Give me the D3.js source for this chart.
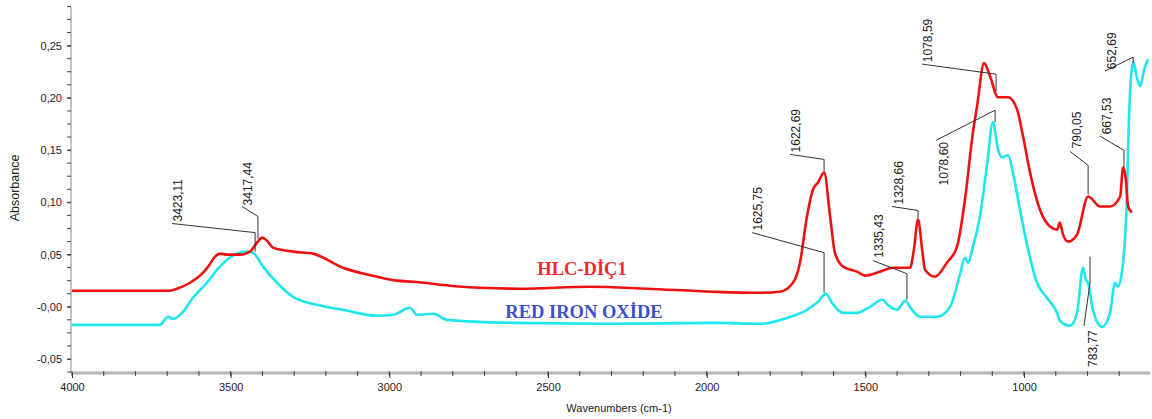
<!DOCTYPE html>
<html lang="en">
  <head>
    <meta charset="utf-8">
    <title>FTIR spectra</title>
    <script type="text/javascript" src="https://cdn.jsdelivr.net/npm/d3@7"></script>
    <style>
      body { margin: 0; background: #fff; }
      text { font-family: "Liberation Sans", Arial, sans-serif; }
      text.series { font-family: "Liberation Serif", "Times New Roman", serif; font-weight: bold; }
    </style>
  </head>
  <body>
    <script type="text/javascript">
    // HLC-DİÇ1 spectrum (wavenumber, absorbance)
    var hlcWavenumbers = [4000, 3691, 3669, 3628, 3587, 3571, 3549, 3534, 3512, 3471, 3439, 3417, 3401, 3386, 3367,
      3304, 3241, 3146, 3039, 2976, 2925, 2809, 2714, 2588, 2368, 2188, 1980, 1832, 1769, 1728, 1706, 1684,
      1665, 1649, 1630, 1611, 1596, 1570, 1526, 1501, 1454, 1413, 1359, 1347, 1334, 1321, 1312, 1280, 1243,
      1211, 1186, 1161, 1148, 1126, 1107, 1082, 1050, 1022, 1003, 981, 950, 918, 896, 887, 877, 861, 833,
      798, 760, 729, 697, 688, 679, 672, 660];
    var hlcAbsorbance = [0.0154, 0.0154, 0.0173, 0.0230, 0.0326, 0.0384, 0.0480, 0.0509, 0.0499, 0.0499, 0.0528, 0.0614, 0.0662, 0.0634, 0.0566,
      0.0528, 0.0509, 0.0374, 0.0288, 0.0250, 0.0240, 0.0202, 0.0182, 0.0173, 0.0192, 0.0173, 0.0144, 0.0134, 0.0144, 0.0230, 0.0422, 0.0864,
      0.1123, 0.1190, 0.1286, 0.0864, 0.0518, 0.0384, 0.0336, 0.0298, 0.0336, 0.0374, 0.0374, 0.0547, 0.0835, 0.0547, 0.0355, 0.0288, 0.0422,
      0.0576, 0.1027, 0.1670, 0.1920, 0.2333, 0.2208, 0.2006, 0.2006, 0.1890, 0.1632, 0.1286, 0.0931, 0.0768, 0.0739, 0.0806, 0.0691, 0.0624, 0.0691,
      0.1056, 0.0960, 0.0960, 0.1056, 0.1334, 0.1219, 0.0960, 0.0902];

    // RED IRON OXİDE spectrum
    var ironWavenumbers = [4000, 3723, 3697, 3682, 3650, 3619, 3575, 3534, 3493, 3449, 3430, 3398, 3354, 3304, 3228,
      3146, 3039, 2988, 2935, 2913, 2862, 2818, 2610, 2295, 1980, 1832, 1747, 1684, 1649, 1624, 1605, 1570,
      1526, 1485, 1447, 1429, 1400, 1375, 1353, 1328, 1274, 1233, 1202, 1186, 1176, 1161, 1139, 1117, 1098,
      1082, 1069, 1050, 1035, 1013, 987, 959, 928, 896, 887, 855, 833, 814, 805, 798, 783, 754, 729, 713, 704,
      688, 676, 669, 656, 643, 634, 621, 609];
    var ironAbsorbance = [-0.0173, -0.0173, -0.0096, -0.0115, -0.0048, 0.0086, 0.0230, 0.0384, 0.0490, 0.0528, 0.0518, 0.0384, 0.0230, 0.0096, 0.0019,
      -0.0029, -0.0086, -0.0077, -0.0010, -0.0077, -0.0067, -0.0125, -0.0154, -0.0163, -0.0154, -0.0163, -0.0106, -0.0029, 0.0048, 0.0125, 0.0038, -0.0058,
      -0.0058, 0.0000, 0.0067, 0.0019, -0.0029, 0.0058, -0.0029, -0.0096, -0.0096, 0.0000, 0.0307, 0.0470, 0.0422, 0.0576, 0.0864, 0.1344, 0.1766,
      0.1507, 0.1430, 0.1450, 0.1286, 0.0931, 0.0547, 0.0230, 0.0086, -0.0058, -0.0134, -0.0182, -0.0058, 0.0374, 0.0259, 0.0230, -0.0029, -0.0192, -0.0058, 0.0230, 0.0192,
      0.0422, 0.1027, 0.1824, 0.2342, 0.2179, 0.2112, 0.2275, 0.2370];

    // axis ticks
    var xTickValues = [4000, 3500, 3000, 2500, 2000, 1500, 1000];
    var yTickValues = [-0.05, 0, 0.05, 0.10, 0.15, 0.20, 0.25];
    var yTickLabels = ["-0,05", "-0,00", "0,05", "0,10", "0,15", "0,20", "0,25"];

    // peak labels: text anchor and leader line, in data coordinates
    var peakLabels = ["3423,11", "3417,44", "1622,69", "1625,75", "1335,43", "1328,66",
      "1078,60", "1078,59", "790,05", "667,53", "652,69", "783,77"];
    var peakTextAt = [[3653, 0.0816], [3433, 0.0970], [1706, 0.1478], [1826, 0.0730], [1444, 0.0470], [1381, 0.0979],
      [1240, 0.1162], [1290, 0.2342], [820, 0.1517], [726, 0.1651], [710, 0.2275], [770, -0.0576]];
    var peakLeaders = [
      [[3685, 0.0797], [3423, 0.0710], [3423, 0.0528]],
      [[3464, 0.0960], [3414, 0.0864], [3414, 0.0653]],
      [[1737, 0.1459], [1630, 0.1411], [1630, 0.1296]],
      [[1857, 0.0710], [1630, 0.0518], [1630, 0.0134]],
      [[1476, 0.0442], [1369, 0.0317], [1369, 0.0067]],
      [[1416, 0.0960], [1334, 0.0922], [1334, 0.0845]],
      [[1277, 0.1594], [1091, 0.1882], [1091, 0.1766]],
      [[1321, 0.2323], [1088, 0.2227], [1088, 0.2064]],
      [[855, 0.1488], [798, 0.1354], [798, 0.1075]],
      [[760, 0.1632], [685, 0.1498], [685, 0.1334]],
      [[745, 0.2256], [656, 0.2390], [656, 0.2333]],
      [[811, -0.0182], [792, 0.0230], [792, 0.0480]]
    ];

    var w = 1152;
    var h = 419;

    var svg = d3.select("body")
                .append("svg")
                .attr("width", w)
                .attr("height", h);

    var xScale = d3.scaleLinear().domain([4000, 603]).range([72, 1150]);
    var yScale = d3.scaleLinear().domain([-0.0634, 0.287]).range([373, 7]);

    // x axis: thick grey base line with small ticks
    svg.append("line")
       .attr("x1", 71).attr("x2", 1150)
       .attr("y1", 373).attr("y2", 373)
       .attr("stroke", "#b4b4b4").attr("stroke-width", 3);

    var xMinor = d3.range(4000, 600, -100);
    svg.selectAll(".xminor")
       .data(xMinor)
       .enter()
       .append("line")
       .attr("x1", function(d) { return xScale(d); })
       .attr("x2", function(d) { return xScale(d); })
       .attr("y1", 371).attr("y2", 376)
       .attr("stroke", "#444");

    var xAxis = d3.axisBottom(xScale)
                  .tickValues(xTickValues)
                  .tickSize(5)
                  .tickFormat(d3.format("d"));
    var gx = svg.append("g").attr("transform", "translate(0,373)").call(xAxis);
    gx.select(".domain").remove();
    gx.selectAll("line").attr("stroke", "#333");
    gx.selectAll("text")
      .attr("font-size", 11)
      .attr("fill", "#222")
      .attr("y", 10);

    // y axis
    var yMinor = d3.range(-0.0625, 0.288, 0.0125);
    var yAxis = d3.axisLeft(yScale)
                  .tickValues(yTickValues)
                  .tickSize(4)
                  .tickPadding(5)
                  .tickFormat(function(d, i) { return yTickLabels[i]; });
    var gy = svg.append("g").attr("transform", "translate(71,0)").call(yAxis);
    gy.select(".domain").attr("d", "M0,7V373").attr("stroke", "#888");
    gy.selectAll("line").attr("stroke", "#444");
    gy.selectAll("text")
      .attr("font-size", 11)
      .attr("fill", "#222");

    svg.selectAll(".yminor")
       .data(yMinor)
       .enter()
       .append("line")
       .attr("x1", 67).attr("x2", 71)
       .attr("y1", function(d) { return yScale(d); })
       .attr("y2", function(d) { return yScale(d); })
       .attr("stroke", "#444");

    svg.append("text")
       .attr("transform", "translate(19,188) rotate(-90)")
       .attr("text-anchor", "middle")
       .attr("font-size", 12.5)
       .attr("fill", "#222")
       .text("Absorbance");

    svg.append("text")
       .attr("x", 619).attr("y", 412)
       .attr("text-anchor", "middle")
       .attr("font-size", 11)
       .attr("fill", "#222")
       .text("Wavenumbers (cm-1)");

    // spectra
    var line = d3.line()
                 .x(function(d) { return xScale(d[0]); })
                 .y(function(d) { return yScale(d[1]); })
                 .curve(d3.curveMonotoneX);

    var ironData = d3.zip(ironWavenumbers, ironAbsorbance);
    var hlcData = d3.zip(hlcWavenumbers, hlcAbsorbance);

    svg.append("path")
       .datum(ironData)
       .attr("d", line)
       .attr("fill", "none")
       .attr("stroke", "#1ee6ee")
       .attr("stroke-width", 2.6);

    svg.append("path")
       .datum(hlcData)
       .attr("d", line)
       .attr("fill", "none")
       .attr("stroke", "#f01010")
       .attr("stroke-width", 2.6);

    // peak leaders and labels
    var plain = d3.line()
                  .x(function(d) { return xScale(d[0]); })
                  .y(function(d) { return yScale(d[1]); });

    svg.selectAll(".leader")
       .data(peakLeaders)
       .enter()
       .append("path")
       .attr("d", plain)
       .attr("fill", "none")
       .attr("stroke", "#333")
       .attr("stroke-width", 1);

    svg.selectAll(".peak")
       .data(peakLabels)
       .enter()
       .append("text")
       .attr("transform", function(d, i) {
         return "translate(" + xScale(peakTextAt[i][0]) + "," + yScale(peakTextAt[i][1]) + ") rotate(-90)";
       })
       .attr("font-size", 12)
       .attr("fill", "#222")
       .text(function(d) { return d; });

    // series names
    svg.append("text")
       .attr("class", "series")
       .attr("x", 582).attr("y", 275)
       .attr("text-anchor", "middle")
       .attr("font-size", 18.5)
       .attr("fill", "#ee2a30")
       .text("HLC-DİÇ1");

    svg.append("text")
       .attr("class", "series")
       .attr("x", 584).attr("y", 318)
       .attr("text-anchor", "middle")
       .attr("font-size", 18.5)
       .attr("fill", "#3d50cc")
       .text("RED IRON OXİDE");
    </script>
  </body>
</html>
